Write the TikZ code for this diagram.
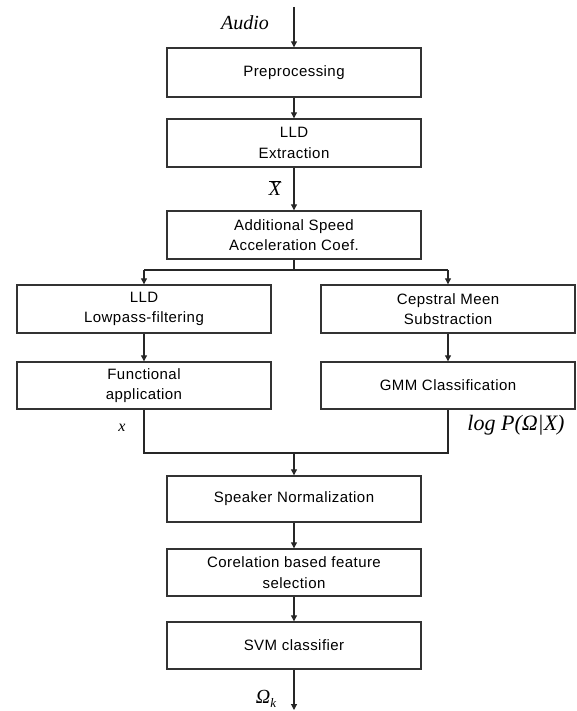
\documentclass[tikz,border=0pt]{standalone}
\usepackage{fontspec}
\setmainfont{Liberation Serif}
\setsansfont{Liberation Sans}[LetterSpace=3]
\usetikzlibrary{arrows.meta,calc}
\tikzset{
  blk/.style={draw=black!80, line width=1.4pt, fill=white, minimum width=254pt, align=center,
              font=\sffamily\fontsize{15}{20.5}\selectfont, inner sep=0pt},
  conn/.style={draw=black!85, line width=1.1pt},
  arr/.style={conn, -{Triangle[length=6pt,width=6pt]}},
  lbl/.style={font=\itshape\fontsize{20}{22}\selectfont, inner sep=0pt}
}
\begin{document}
\begin{tikzpicture}[x=1pt,y=-1pt]
\useasboundingbox (0,0) rectangle (576,711);
% boxes
\node[blk, minimum height=49pt] (pre) at (294,72.5) {Preprocessing};
\node[blk, minimum height=48pt] (lld) at (294,143) {LLD\\Extraction};
\node[blk, minimum height=48pt] (add) at (294,235) {Additional Speed\\Acceleration Coef.};
\node[blk, minimum height=48pt] (lp)  at (144,309) {LLD\\Lowpass-filtering};
\node[blk, minimum height=48pt] (cms) at (448,309) {Cepstral Meen\\Substraction};
\node[blk, minimum height=47pt] (fun) at (144,385.5) {Functional\\application};
\node[blk, minimum height=47pt] (gmm) at (448,385.5) {GMM Classification};
\node[blk, minimum height=46pt] (spk) at (294,499) {Speaker Normalization};
\node[blk, minimum height=47pt] (cor) at (294,572.5) {Corelation based feature\\selection};
\node[blk, minimum height=47pt] (svm) at (294,645.5) {SVM classifier};
% coordinates
\coordinate (in) at (294,7);
\coordinate (out) at (294,710);
\coordinate (split) at (294,270);
\coordinate (join) at (294,453);
% connectors
\draw[arr] (in) -- (pre.north);
\draw[arr] (pre.south) -- (lld.north);
\draw[arr] (lld.south) -- (add.north);
\draw[conn] (add.south) -- (split);
\draw[conn] (lp.north |- split) -- (cms.north |- split);
\draw[arr] (lp.north |- split) -- (lp.north);
\draw[arr] (cms.north |- split) -- (cms.north);
\draw[arr] (lp.south) -- (fun.north);
\draw[arr] (cms.south) -- (gmm.north);
\draw[conn] (fun.south) -- (fun.south |- join) -- (gmm.south |- join) -- (gmm.south);
\draw[arr] (join) -- (spk.north);
\draw[arr] (spk.south) -- (cor.north);
\draw[arr] (cor.south) -- (svm.north);
\draw[arr] (svm.south) -- (out);
% labels
\node[lbl] (audio) at (245,23) {Audio};
\node[lbl] (xbar) at (275,188) {$\overline{\hbox{\itshape X}}$};
\node[lbl, font=\itshape\fontsize{16}{18}\selectfont] (xs) at (122,428) {x};
\node[lbl, font=\itshape\fontsize{22}{24}\selectfont] (logp) at (516,425) {log P(Ω|X)};
\node[lbl] (omk) at (266,699) {Ω\raisebox{-4pt}{\fontsize{13}{14}\selectfont k}};
\end{tikzpicture}
\end{document}
